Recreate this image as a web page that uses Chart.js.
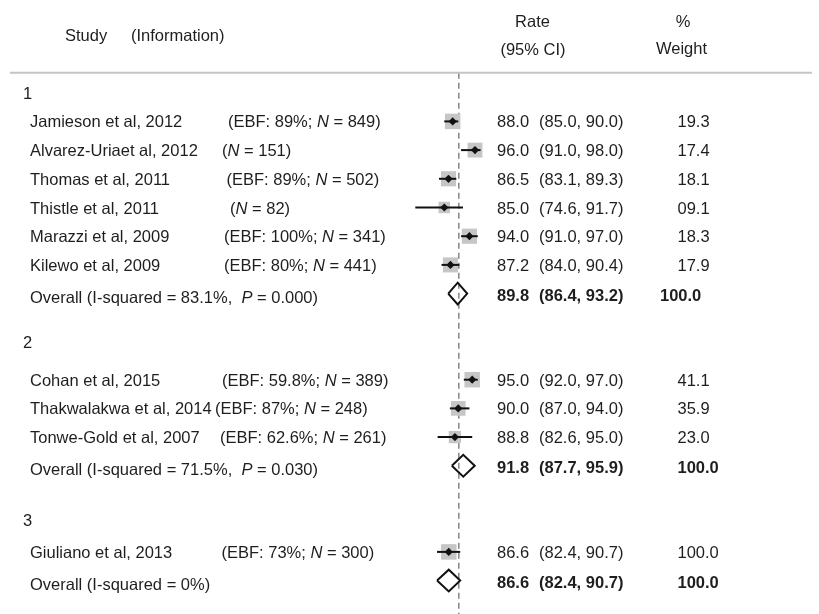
<!DOCTYPE html>
<html><head><meta charset="utf-8">
<script src="https://cdn.jsdelivr.net/npm/chart.js@4"></script>
<style>html,body{margin:0;padding:0;background:#fff}#wrap{width:819px;height:614px}</style>
</head><body><div id="wrap"><canvas id="c" width="819" height="614"></canvas></div>
<script>
// ---------- data ----------
const groupLabels = ['1', '2', '3'];
const groupRows = [0, 8.69, 14.89];

const studies = ['Jamieson et al, 2012', 'Alvarez-Uriaet al, 2012', 'Thomas et al, 2011', 'Thistle et al, 2011',
  'Marazzi et al, 2009', 'Kilewo et al, 2009', 'Cohan et al, 2015', 'Thakwalakwa et al, 2014',
  'Tonwe-Gold et al, 2007', 'Giuliano et al, 2013'];
const studyInfo = ['(EBF: 89%; *N* = 849)', '(*N* = 151)', '(EBF: 89%; *N* = 502)', '(*N* = 82)',
  '(EBF: 100%; *N* = 341)', '(EBF: 80%; *N* = 441)', '(EBF: 59.8%; *N* = 389)', '(EBF: 87%; *N* = 248)',
  '(EBF: 62.6%; *N* = 261)', '(EBF: 73%; *N* = 300)'];
const studyGroup = [0, 0, 0, 0, 0, 0, 1, 1, 1, 2];
const studyRows = [1, 2, 3, 4, 5, 6, 10, 11, 12, 16];
const rate  = [88.0, 96.0, 86.5, 85.0, 94.0, 87.2, 95.0, 90.0, 88.8, 86.6];
const lower = [85.0, 91.0, 83.1, 74.6, 91.0, 84.0, 92.0, 87.0, 82.6, 82.4];
const upper = [90.0, 98.0, 89.3, 91.7, 97.0, 90.4, 97.0, 94.0, 95.0, 90.7];
const weightLabels = ['19.3', '17.4', '18.1', '09.1', '18.3', '17.9', '41.1', '35.9', '23.0', '100.0'];

const overallLabels = ['Overall (I-squared = 83.1%,  *P* = 0.000)', 'Overall (I-squared = 71.5%,  *P* = 0.030)', 'Overall (I-squared = 0%)'];
const overallRows = [7, 13, 17];
const overallRate  = [89.8, 91.8, 86.6];
const overallLower = [86.4, 87.7, 82.4];
const overallUpper = [93.2, 95.9, 90.7];
const overallWeightLabels = ['100.0', '100.0', '100.0'];

const refLine = 90.2;
const headerRow = -0.697;

// ---------- layout (pixels) ----------
const FONT = '"Liberation Sans", Arial, Helvetica, sans-serif';
const FS = 16.5;
const TXT = '#1e1e1e';
const TY = 1.5; // text vertical nudge
const groupX = 23, nameX = 30;
const infoX = [228, 222, 226.5, 230, 224, 224, 222, 215, 220, 221.5];
const estX = 497, ciX = 539;
const studyWeightX = 677.5;
const overallWeightX = [660, 677.5, 677.5];
const diamondHalf = 0.38;

const fmt = v => v.toFixed(1);
const weights = weightLabels.map(Number);
const groupMax = groupLabels.map((_, g) => Math.max(...weights.filter((w, i) => studyGroup[i] === g)));
const squareRadii = weights.map((w, i) => 15.5 * Math.pow(w / groupMax[studyGroup[i]], 0.4) / Math.SQRT2);

// ---------- datasets ----------
const datasets = [];
// point estimates (top)
datasets.push({
  type: 'scatter', data: rate.map((r, i) => ({x: r, y: studyRows[i]})),
  pointStyle: 'rectRot', pointRadius: 4.1, backgroundColor: '#111', borderWidth: 0
});
// CI lines
rate.forEach((r, i) => {
  datasets.push({
    type: 'scatter', showLine: true, data: [{x: lower[i], y: studyRows[i]}, {x: upper[i], y: studyRows[i]}],
    borderColor: '#111', borderWidth: 2, pointRadius: 0, fill: false
  });
});
// weight squares
datasets.push({
  type: 'scatter', data: rate.map((r, i) => ({x: r, y: studyRows[i]})),
  pointStyle: 'rect', pointRadius: squareRadii,
  backgroundColor: '#c6c6c6', borderColor: '#c6c6c6', borderWidth: 0
});
// overall diamonds
overallRate.forEach((r, g) => {
  const y = overallRows[g];
  datasets.push({
    type: 'scatter', showLine: true,
    data: [{x: overallLower[g], y: y}, {x: r, y: y - diamondHalf}, {x: overallUpper[g], y: y},
           {x: r, y: y + diamondHalf}, {x: overallLower[g], y: y}],
    borderColor: '#111', borderWidth: 2, pointRadius: 0, fill: false, borderJoinStyle: 'miter'
  });
});
// reference dashed line (bottom)
datasets.push({
  type: 'scatter', showLine: true, data: [{x: refLine, y: headerRow}, {x: refLine, y: 18.3}],
  borderColor: '#858585', borderWidth: 1.5, borderDash: [6, 4], pointRadius: 0, fill: false
});

// ---------- text plugin ----------
function drawRuns(ctx, str, x, y, bold) {
  const parts = str.split('*');
  let cx = x;
  parts.forEach((p, k) => {
    const italic = k % 2 === 1;
    ctx.font = (italic ? 'italic ' : '') + (bold ? 'bold ' : '') + FS + 'px ' + FONT;
    ctx.fillText(p, cx, y);
    cx += ctx.measureText(p).width;
  });
}
const textPlugin = {
  id: 'forestText',
  afterDatasetsDraw(chart) {
    const ctx = chart.ctx, ys = chart.scales.y;
    ctx.save();
    // header separator
    const hy = ys.getPixelForValue(headerRow);
    ctx.strokeStyle = '#c4c4c4'; ctx.lineWidth = 2;
    ctx.beginPath(); ctx.moveTo(10, hy); ctx.lineTo(812, hy); ctx.stroke();

    ctx.fillStyle = TXT; ctx.textBaseline = 'middle';
    ctx.font = FS + 'px ' + FONT;
    ctx.textAlign = 'left';
    ctx.fillText('Study', 65, 36);
    ctx.fillText('(Information)', 131, 36);
    ctx.textAlign = 'center';
    ctx.fillText('Rate', 532.5, 22);
    ctx.fillText('(95% CI)', 533, 50);
    ctx.fillText('%', 683, 22);
    ctx.fillText('Weight', 681.5, 49);
    ctx.textAlign = 'left';

    groupLabels.forEach((g, i) => {
      ctx.font = FS + 'px ' + FONT;
      ctx.fillText(g, groupX, ys.getPixelForValue(groupRows[i]) + TY);
    });
    studies.forEach((s, i) => {
      const y = ys.getPixelForValue(studyRows[i]) + TY;
      ctx.font = FS + 'px ' + FONT;
      ctx.fillText(s, nameX, y);
      drawRuns(ctx, studyInfo[i], infoX[i], y, false);
      ctx.font = FS + 'px ' + FONT;
      ctx.fillText(fmt(rate[i]), estX, y);
      ctx.fillText('(' + fmt(lower[i]) + ', ' + fmt(upper[i]) + ')', ciX, y);
      ctx.fillText(weightLabels[i], studyWeightX, y);
    });
    overallLabels.forEach((s, g) => {
      const y = ys.getPixelForValue(overallRows[g]) + TY;
      drawRuns(ctx, s, nameX, y + 3, false);
      ctx.font = 'bold ' + FS + 'px ' + FONT;
      ctx.fillText(fmt(overallRate[g]), estX, y + 1);
      ctx.fillText('(' + fmt(overallLower[g]) + ', ' + fmt(overallUpper[g]) + ')', ciX, y + 1);
      ctx.fillText(overallWeightLabels[g], overallWeightX[g], y + 1);
    });
    ctx.restore();
  }
};

new Chart(document.getElementById('c'), {
  type: 'scatter',
  data: {datasets},
  options: {
    responsive: false, animation: false, events: [],
    devicePixelRatio: 1,
    layout: {padding: 0, autoPadding: false},
    elements: {line: {tension: 0}},
    plugins: {legend: {display: false}, tooltip: {enabled: false}},
    scales: {
      x: {type: 'linear', min: -74.25, max: 219.3, display: false},
      y: {type: 'linear', min: -3.230, max: 18.164, reverse: true, display: false}
    }
  },
  plugins: [textPlugin]
});
</script></body></html>
